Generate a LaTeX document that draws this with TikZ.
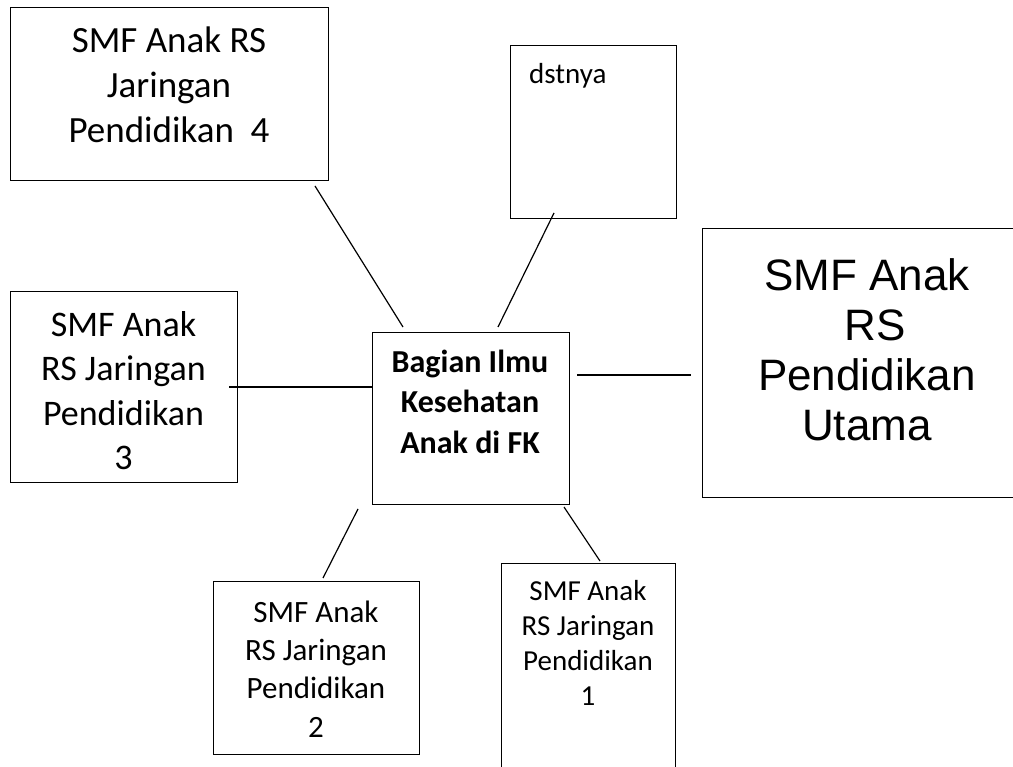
\documentclass[tikz,border=0pt]{standalone}
\usepackage{fontspec}
\setmainfont{Carlito}
\newfontfamily\arialfam{Liberation Sans}
\newcommand\firststrut[1]{\rule{0pt}{#1}}
\begin{document}
\begin{tikzpicture}[x=1pt,y=-1pt,
  box/.style={draw=black, line width=1.4pt, rectangle, inner sep=0pt, anchor=north west},
  conn/.style={draw=black, line width=1.2pt},
  txt/.style={inner sep=0pt, align=center, anchor=north}]
\useasboundingbox (0,0) rectangle (1013,767);
\fill[white] (0,0) rectangle (1013,767);

% boxes
\node[box, minimum width=318pt, minimum height=173pt] (b4) at (10,7) {};
\node[box, minimum width=166pt, minimum height=173pt] (dst) at (510,45) {};
\node[box, minimum width=314pt, minimum height=269pt] (big) at (702,228) {};
\node[box, minimum width=227pt, minimum height=191pt] (b3) at (10,291) {};
\node[box, minimum width=197pt, minimum height=172pt] (ctr) at (372,332) {};
\node[box, minimum width=206pt, minimum height=173pt] (b2) at (213,581) {};
\node[box, minimum width=174pt, minimum height=209pt] (b1) at (501,563) {};

% texts
\node[txt, font=\fontsize{37pt}{45pt}\selectfont] (t4) at (169,15)
  {\firststrut{37pt}SMF Anak RS\\Jaringan\\Pendidikan~~4};
\node[txt, font=\fontsize{29pt}{35pt}\selectfont, anchor=north west] (tdst) at (529,54)
  {\firststrut{29pt}dstnya};
\node[txt, font=\arialfam\fontsize{44pt}{50pt}\selectfont] (tbig) at (867,246)
  {\firststrut{44pt}SMF Anak\\\hspace*{16pt}RS\\Pendidikan\\Utama};
\node[txt, font=\fontsize{36pt}{44.5pt}\selectfont] (t3) at (123.5,300)
  {\firststrut{36pt}SMF Anak\\RS Jaringan\\Pendidikan\\3};
\node[txt, font=\bfseries\fontsize{32pt}{40.5pt}\selectfont] (tc) at (470,340)
  {\firststrut{32pt}Bagian Ilmu\\Kesehatan\\Anak di FK};
\node[txt, font=\fontsize{31pt}{38.3pt}\selectfont] (t2) at (316,591)
  {\firststrut{31pt}SMF Anak\\RS Jaringan\\Pendidikan\\2};
\node[txt, font=\fontsize{29pt}{35pt}\selectfont] (t1) at (588,571)
  {\firststrut{29pt}SMF Anak\\RS Jaringan\\Pendidikan\\1};

% connector ends
\coordinate (l1a) at (315,186);
\coordinate (l1b) at (403,327);
\coordinate (l2a) at (554,213);
\coordinate (l2b) at (498,327);
\coordinate (l3a) at (577,375);
\coordinate (l3b) at (691,375);
\coordinate (l4a) at (229,387);
\coordinate (l5a) at (358,509);
\coordinate (l5b) at (323,578);
\coordinate (l6a) at (564,507);
\coordinate (l6b) at (600,561);

% connectors
\draw[conn] (l1a) -- (l1b);
\draw[conn] (l2a) -- (l2b);
\draw[conn] (l3a) -- (l3b);
\draw[conn] (l4a) -- (l4a -| ctr.west);
\draw[conn] (l5a) -- (l5b);
\draw[conn] (l6a) -- (l6b);
\end{tikzpicture}
\end{document}
